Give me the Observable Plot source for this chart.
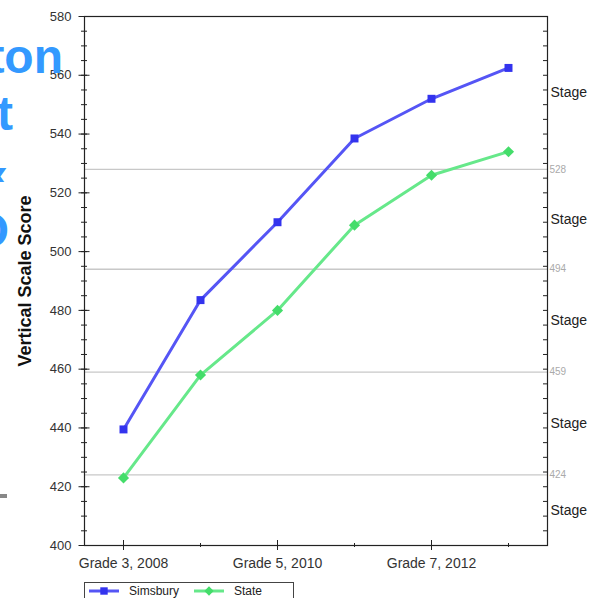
<!DOCTYPE html>
<html>
<head>
<meta charset="utf-8">
<script src="https://cdn.jsdelivr.net/npm/d3@7"></script>
<script src="https://cdn.jsdelivr.net/npm/@observablehq/plot@0.6"></script>
<style>
  html, body { margin: 0; padding: 0; background: #fff; }
  #wrap { position: relative; width: 593px; height: 598px; overflow: hidden; font-family: "Liberation Sans", Arial, sans-serif; }
  #wrap > svg.plot { position: absolute; left: 0; top: 0; }
  #deco { position: absolute; left: 0; top: 0; pointer-events: none; }
  #legend { position: absolute; left: 84px; top: 582px; width: 210px; height: 30px; border: 1px solid #444; box-sizing: border-box; background: #fff; }
</style>
</head>
<body>
<div id="wrap"></div>
<script>
// ---- data ----
const grades = ["Grade 3, 2008", "Grade 4, 2009", "Grade 5, 2010", "Grade 6, 2011", "Grade 7, 2012", "Grade 8, 2013"];
const labeledGrades = ["Grade 3, 2008", "Grade 5, 2010", "Grade 7, 2012"];
const simsbury = [439.5, 483.5, 510, 538.5, 552, 562.5];
const state = [423, 458, 480, 509, 526, 534];
const cutScores = [528, 494, 459, 424];
const stageBounds = [580, 528, 494, 459, 424, 400];
const stageText = ["Stage", "Stage", "Stage", "Stage", "Stage"];
const yMajorTicks = [400, 420, 440, 460, 480, 500, 520, 540, 560, 580];
const yMinorTicks = d3.range(400, 581, 5);
const seriesNames = ["Simsbury", "State"];
const seriesColors = ["#5555f5", "#66e88a"];
const markerColors = ["#3333ee", "#44dd6a"];

// ---- tables ----
const simsburyData = grades.map((g, i) => ({grade: g, value: simsbury[i]}));
const stateData = grades.map((g, i) => ({grade: g, value: state[i]}));
const stageData = d3.pairs(stageBounds).map(([a, b], i) => ({y: (a + b) / 2, text: stageText[i]}));
const minorGrades = grades.filter(g => !labeledGrades.includes(g));

const font = "'Liberation Sans', Arial, sans-serif";

const chart = Plot.plot({
  width: 593,
  height: 598,
  marginTop: 16,
  marginBottom: 53,
  marginLeft: 84,
  marginRight: 46,
  style: {fontFamily: font, background: "transparent"},
  x: {type: "point", domain: grades, padding: 0.5},
  y: {domain: [400, 580]},
  marks: [
    Plot.ruleY(cutScores, {stroke: "#c8c8c8", strokeWidth: 1.3}),
    Plot.frame({stroke: "#222", strokeWidth: 1.2}),
    // left axis labels
    Plot.axisY({ticks: yMajorTicks, tickSize: 0, tickPadding: 13, label: null, fontSize: 13, fill: "#333"}),
    // left axis major ticks (crossing)
    Plot.axisY({ticks: yMajorTicks, tickSize: 11, dx: 5.5, tickFormat: () => "", label: null, stroke: "#222"}),
    // left axis minor ticks
    Plot.axisY({ticks: yMinorTicks, tickSize: 6, dx: 3, tickFormat: () => "", label: null, stroke: "#222"}),
    // right axis inner ticks
    Plot.axisY({anchor: "right", ticks: yMinorTicks, tickSize: 5, dx: -5, tickFormat: () => "", label: null, stroke: "#222"}),
    // x axis labels
    Plot.axisX({ticks: labeledGrades, tickSize: 0, tickPadding: 13, label: null, fontSize: 14, fill: "#333"}),
    Plot.axisX({ticks: labeledGrades, tickSize: 10, dy: -5, tickFormat: () => "", label: null, stroke: "#222"}),
    Plot.axisX({ticks: minorGrades, tickSize: 4, dy: -2, tickFormat: () => "", label: null, stroke: "#222"}),
    // cut score labels
    Plot.text(cutScores, {y: d => d, text: d => String(d), frameAnchor: "right", textAnchor: "start", dx: 2, fill: "#aaa", fontSize: 10}),
    // stage labels
    Plot.text(stageData, {y: "y", text: "text", frameAnchor: "right", textAnchor: "start", dx: 3, fill: "#222", fontSize: 14}),
    // y title
    Plot.text(["Vertical Scale Score"], {frameAnchor: "left", textAnchor: "middle", dx: -59, rotate: -90, fontWeight: "bold", fontSize: 18, fill: "#111"}),
    // series
    Plot.line(simsburyData, {x: "grade", y: "value", stroke: seriesColors[0], strokeWidth: 3}),
    Plot.dot(simsburyData, {x: "grade", y: "value", symbol: "square", r: 4.5, fill: markerColors[0], stroke: "none"}),
    Plot.line(stateData, {x: "grade", y: "value", stroke: seriesColors[1], strokeWidth: 3}),
    Plot.dot(stateData, {x: "grade", y: "value", symbol: "diamond2", r: 5, fill: markerColors[1], stroke: "none"})
  ]
});
chart.classList.add("plot");
const wrap = document.getElementById("wrap");
wrap.appendChild(chart);

// ---- background slide text fragments (overlay) ----
const deco = d3.create("svg").attr("id", "deco").attr("width", 593).attr("height", 598);
const defs = deco.append("defs");
defs.append("clipPath").attr("id", "c1").append("rect").attr("x", 0).attr("y", 168).attr("width", 12).attr("height", 14);
defs.append("clipPath").attr("id", "c2").append("rect").attr("x", 0).attr("y", 208).attr("width", 12).attr("height", 42);
const decoStyle = t => t.attr("fill", "#3399ff").attr("font-family", font).attr("font-weight", "bold").attr("font-size", 48).attr("text-anchor", "end");
deco.append("text").attr("x", 63).attr("y", 73).text("ton").call(decoStyle);
deco.append("text").attr("x", 13).attr("y", 130).text("t").call(decoStyle);
deco.append("text").attr("x", 10).attr("y", 190).attr("clip-path", "url(#c1)").text("x").call(decoStyle);
deco.append("text").attr("x", 9).attr("y", 247).attr("clip-path", "url(#c2)").text("O").call(decoStyle);
deco.append("rect").attr("x", 0).attr("y", 494).attr("width", 7).attr("height", 4).attr("fill", "#888");
wrap.appendChild(deco.node());

// ---- legend ----
const legend = document.createElement("div");
legend.id = "legend";
wrap.appendChild(legend);
const lg = d3.select(legend).append("svg").attr("width", 210).attr("height", 30);
const legendItems = [
  {name: seriesNames[0], color: seriesColors[0], marker: markerColors[0], sym: d3.symbolSquare, x0: 4, tx: 44},
  {name: seriesNames[1], color: seriesColors[1], marker: markerColors[1], sym: d3.symbolDiamond2, x0: 109, tx: 149}
];
for (const it of legendItems) {
  lg.append("line").attr("x1", it.x0).attr("x2", it.x0 + 30).attr("y1", 8).attr("y2", 8).attr("stroke", it.color).attr("stroke-width", 3);
  lg.append("path").attr("d", d3.symbol(it.sym, 55)()).attr("transform", `translate(${it.x0 + 15},8)`).attr("fill", it.marker);
  lg.append("text").attr("x", it.tx).attr("y", 12).attr("font-family", font).attr("font-size", 12).attr("fill", "#222").text(it.name);
}
</script>
</body>
</html>
